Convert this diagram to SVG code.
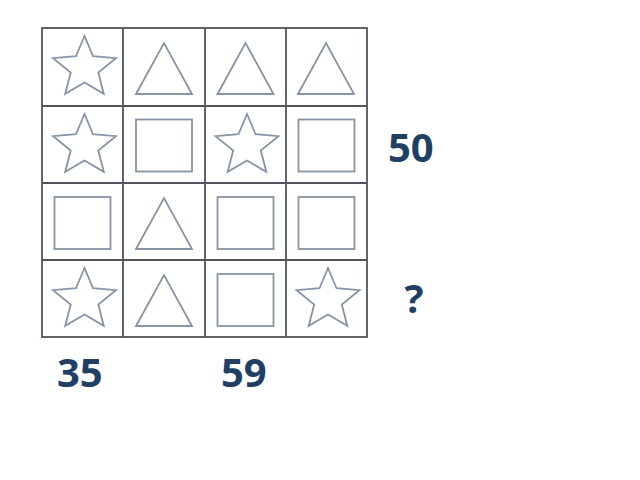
<svg xmlns="http://www.w3.org/2000/svg" width="640" height="480" viewBox="0 0 640 480">
  <defs>
    <style>
      .grid { fill: none; stroke: #50555c; stroke-width: 1.8; }
      .shape { fill: none; stroke: #8794a6; stroke-width: 1.8; stroke-linejoin: miter; }
      .num { font-family: "Open Sans", "Liberation Sans", sans-serif; font-weight: bold; font-size: 40px; fill: #213f63; }
    </style>
    <polygon id="star" class="shape" points="0,-32 8.52,-11.73 31.4,-9.89 13.79,4.48 19.3,25.89 0,14.5 -19.3,25.89 -13.79,4.48 -31.4,-9.89 -8.52,-11.73"/>
    <polygon id="tri" class="shape" points="-28,51 0,0 28,51"/>
    <rect id="sq" class="shape" x="0" y="0" width="56" height="52"/>
  </defs>
  <rect width="640" height="480" fill="#ffffff"/>
  <g id="grid">
    <rect class="grid" x="42" y="28" width="325" height="309"/>
    <line class="grid" x1="123" y1="28" x2="123" y2="337"/>
    <line class="grid" x1="205" y1="28" x2="205" y2="337"/>
    <line class="grid" x1="286" y1="28" x2="286" y2="337"/>
    <line class="grid" x1="42" y1="106" x2="367" y2="106"/>
    <line class="grid" x1="42" y1="183" x2="367" y2="183"/>
    <line class="grid" x1="42" y1="260" x2="367" y2="260"/>
  </g>
  <g id="r1c1"><use href="#star" x="84.5" y="68"/></g>
  <g id="r1c2"><use href="#tri" x="164" y="43"/></g>
  <g id="r1c3"><use href="#tri" x="245.5" y="43"/></g>
  <g id="r1c4"><use href="#tri" x="326" y="43"/></g>
  <g id="r2c1"><use href="#star" x="84.5" y="146"/></g>
  <g id="r2c2"><use href="#sq" x="136" y="119.5"/></g>
  <g id="r2c3"><use href="#star" x="247" y="146"/></g>
  <g id="r2c4"><use href="#sq" x="298.5" y="119.5"/></g>
  <g id="r3c1"><use href="#sq" x="54.5" y="197"/></g>
  <g id="r3c2"><use href="#tri" x="164" y="198"/></g>
  <g id="r3c3"><use href="#sq" x="217.5" y="197"/></g>
  <g id="r3c4"><use href="#sq" x="298.5" y="197"/></g>
  <g id="r4c1"><use href="#star" x="84.5" y="300"/></g>
  <g id="r4c2"><use href="#tri" x="164" y="275"/></g>
  <g id="r4c3"><use href="#sq" x="217.5" y="274"/></g>
  <g id="r4c4"><use href="#star" x="328" y="300"/></g>
  <g id="labels">
    <text class="num" x="388" y="162">50</text>
    <text class="num" x="414" y="313" text-anchor="middle">?</text>
    <text class="num" x="57" y="387">35</text>
    <text class="num" x="221" y="387">59</text>
  </g>
</svg>
